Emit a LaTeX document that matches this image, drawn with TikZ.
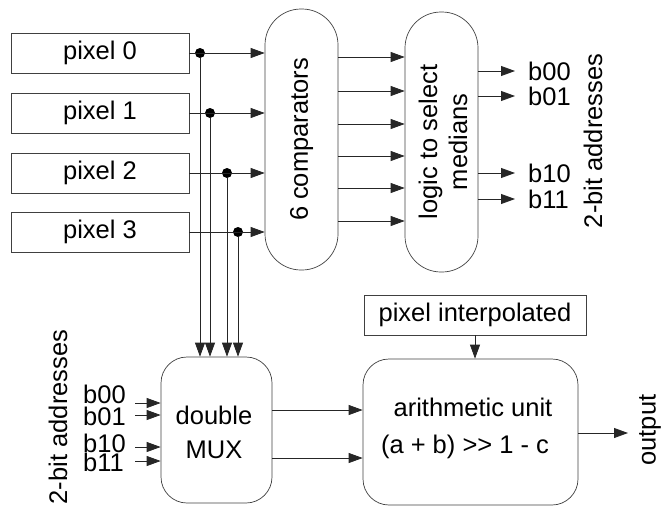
\documentclass[tikz,border=0pt]{standalone}
\usepackage{fontspec}
\setmainfont{Liberation Sans}
\usetikzlibrary{arrows.meta}
\begin{document}
\begin{tikzpicture}[x=1pt,y=-1pt,
  every node/.style={font=\fontsize{25.5}{30}\selectfont, inner sep=0pt, text=black},
  frame/.style={draw=black!75, line width=0.7pt},
  pbox/.style={frame, minimum width=178pt, minimum height=40pt},
  pill/.style={frame, rounded corners=36pt, minimum width=73pt},
  rbox/.style={frame, rounded corners=26pt},
  wire/.style={draw=black!85, line width=0.8pt},
  arr/.style={wire, -{Triangle[length=14pt,width=10pt]}},
  junction/.style={circle, fill=black, minimum size=10pt, inner sep=0pt}]
\useasboundingbox (0,0) rectangle (669,506);

% input pixels
\node[pbox] (p0) at (100,53)  {pixel 0};
\node[pbox] (p1) at (100,113) {pixel 1};
\node[pbox] (p2) at (100,173) {pixel 2};
\node[pbox] (p3) at (100,232) {pixel 3};

% comparator and selection logic blocks
\node[pill, minimum height=261pt] (cmp) at (301.5,139.5) {};
\node[rotate=90] (cmptxt) at (cmp.center) {6 comparators};
\node[pill, minimum height=260pt] (logic) at (441.5,142) {};
\node[rotate=90, align=center, font=\fontsize{25.5}{30}\selectfont] (logictxt) at (443,142) {logic to select\\medians};

% multiplexer and arithmetic unit
\node[rbox, minimum width=111pt, minimum height=146pt] (mux) at (216.5,430) {};
\node[align=center, font=\fontsize{25.5}{34}\selectfont] (muxtxt) at (214,432) {double\\MUX};
\node[rbox, minimum width=215pt, minimum height=146pt] (arith) at (470.5,432) {};
\node (arithtxt) at (473,407) {arithmetic unit};
\node (formula) at (465,447) {(a + b) >{}> 1 - c};
\node[pbox, minimum width=222pt] (pint) at (475,315) {pixel interpolated};

% junction dots on the pixel buses
\node[junction] (d0) at (200,53) {};
\node[junction] (d1) at (210,113) {};
\node[junction] (d2) at (227,173) {};
\node[junction] (d3) at (238,232) {};

% pixels into the comparators, and down to the multiplexer
\foreach \i in {0,1,2,3} {
  \draw[arr] (p\i.east) -- (cmp.west |- p\i.east);
  \draw[arr] (d\i) -- (d\i |- mux.north);
}

% comparator results into the selection logic
\foreach \y in {57,91,124,156,188,221}
  \draw[arr] (cmp.east |- 0,\y) -- (logic.west |- 0,\y);

% selected addresses
\node[anchor=west] (rb00) at (528,71)  {b00};
\node[anchor=west] (rb01) at (528,96)  {b01};
\node[anchor=west] (rb10) at (528,173) {b10};
\node[anchor=west] (rb11) at (528,199) {b11};
\foreach \n in {rb00,rb01,rb10,rb11}
  \draw[arr] (logic.east |- \n.west) -- ([xshift=-13pt]\n.west);
\node[rotate=90] (raddr) at (593,141) {2-bit addresses};

% address inputs of the multiplexer (two tightly stacked pairs)
\node[anchor=west, align=left, font=\fontsize{25.5}{22}\selectfont] (lbA) at (83,405) {b00\\b01};
\node[anchor=west, align=left, font=\fontsize{25.5}{19}\selectfont] (lbB) at (83,453) {b10\\b11};
\coordinate (m00) at (135,403);
\coordinate (m01) at (135,415);
\coordinate (m10) at (135,447);
\coordinate (m11) at (135,461);
\foreach \c in {m00,m01,m10,m11}
  \draw[arr] (\c) -- (mux.west |- \c);
\node[rotate=90] (laddr) at (58,417) {2-bit addresses};

% multiplexer to arithmetic unit
\draw[arr] (mux.east |- 0,410) -- (arith.west |- 0,410);
\draw[arr] (mux.east |- 0,458) -- (arith.west |- 0,458);
\draw[arr] (pint.south) -- (pint.south |- arith.north);

% result
\coordinate (outend) at (628,433);
\draw[arr] (arith.east |- outend) -- (outend);
\node[rotate=90] (outtxt) at (650,430) {output};
\end{tikzpicture}
\end{document}
